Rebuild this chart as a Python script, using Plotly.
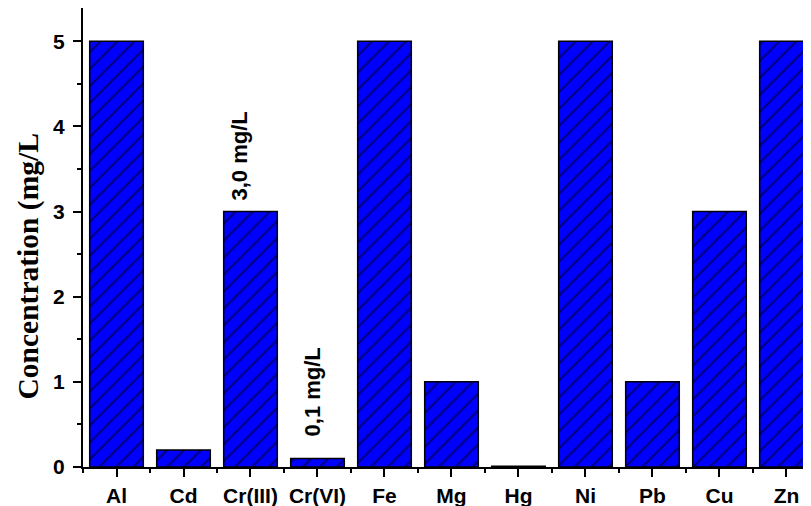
import plotly.graph_objects as go

categories = ["Al", "Cd", "Cr(III)", "Cr(VI)", "Fe", "Mg", "Hg", "Ni", "Pb", "Cu", "Zn"]
values = [5.0, 0.2, 3.0, 0.1, 5.0, 1.0, 0.01, 5.0, 1.0, 3.0, 5.0]
y_ticks = [0, 1, 2, 3, 4, 5]
y_title = "Concentration (mg/L"
labels = {"Cr(III)": "3,0 mg/L", "Cr(VI)": "0,1 mg/L"}

x_idx = list(range(len(categories)))

SANS = "Liberation Sans, Arial, sans-serif"
SERIF = "Liberation Serif, Times New Roman, serif"

fig = go.Figure()
fig.add_trace(go.Bar(
    x=x_idx,
    y=values,
    width=0.8,
    marker=dict(
        color="#0000FF",
        line=dict(color="#000000", width=1.5),
        pattern=dict(shape="/", fgcolor="#000000", bgcolor="#0000FF",
                     size=12, solidity=0.18, fillmode="overlay"),
    ),
    hoverinfo="skip",
))

shifts = {"Cr(III)": (-11, 9), "Cr(VI)": (-5, 20)}
for cat, txt in labels.items():
    i = categories.index(cat)
    dx, dy = shifts[cat]
    fig.add_annotation(
        x=i, y=values[i], xref="x", yref="y", text=txt, showarrow=False,
        textangle=-90, xanchor="center", yanchor="bottom",
        xshift=dx, yshift=dy,
        font=dict(family=SANS, size=22, color="black", weight="bold"),
    )

fig.add_annotation(
    x=-0.0755, y=0.437, xref="paper", yref="paper", text=y_title,
    showarrow=False, textangle=-90, xanchor="center", yanchor="middle",
    font=dict(family=SERIF, size=29.5, color="black", weight="bold"),
)

# page body has an 8px margin; the figure is sized to fit the 811x506 window
fig.update_layout(
    width=803, height=498,
    margin=dict(l=75, r=0, t=0, b=39, autoexpand=False),
    paper_bgcolor="white", plot_bgcolor="white",
    showlegend=False,
    bargap=0.2,
)
fig.update_xaxes(
    automargin=False,
    range=[-0.5, 10.366],
    tickmode="array", tickvals=x_idx, ticktext=categories,
    ticks="outside", ticklen=8, tickwidth=2, tickcolor="black",
    showline=True, linewidth=2, linecolor="black",
    showgrid=False, zeroline=False,
    ticklabelstandoff=1,
    tickfont=dict(family=SANS, size=21, color="black", weight="bold"),
    minor=dict(tickmode="linear", tick0=0.5, dtick=1, ticks="outside",
               ticklen=4, tickwidth=2, tickcolor="black", showgrid=False),
)
fig.update_yaxes(
    automargin=False,
    range=[0, 5.39],
    tickmode="array", tickvals=y_ticks,
    ticks="outside", ticklen=8, tickwidth=2, tickcolor="black",
    showline=True, linewidth=2, linecolor="black",
    showgrid=False, zeroline=False,
    ticklabelstandoff=4,
    tickfont=dict(family=SANS, size=21, color="black", weight="bold"),
    minor=dict(tickmode="linear", tick0=0, dtick=0.5, ticks="outside",
               ticklen=4, tickwidth=2, tickcolor="black", showgrid=False),
)

fig.write_html("out.html")
